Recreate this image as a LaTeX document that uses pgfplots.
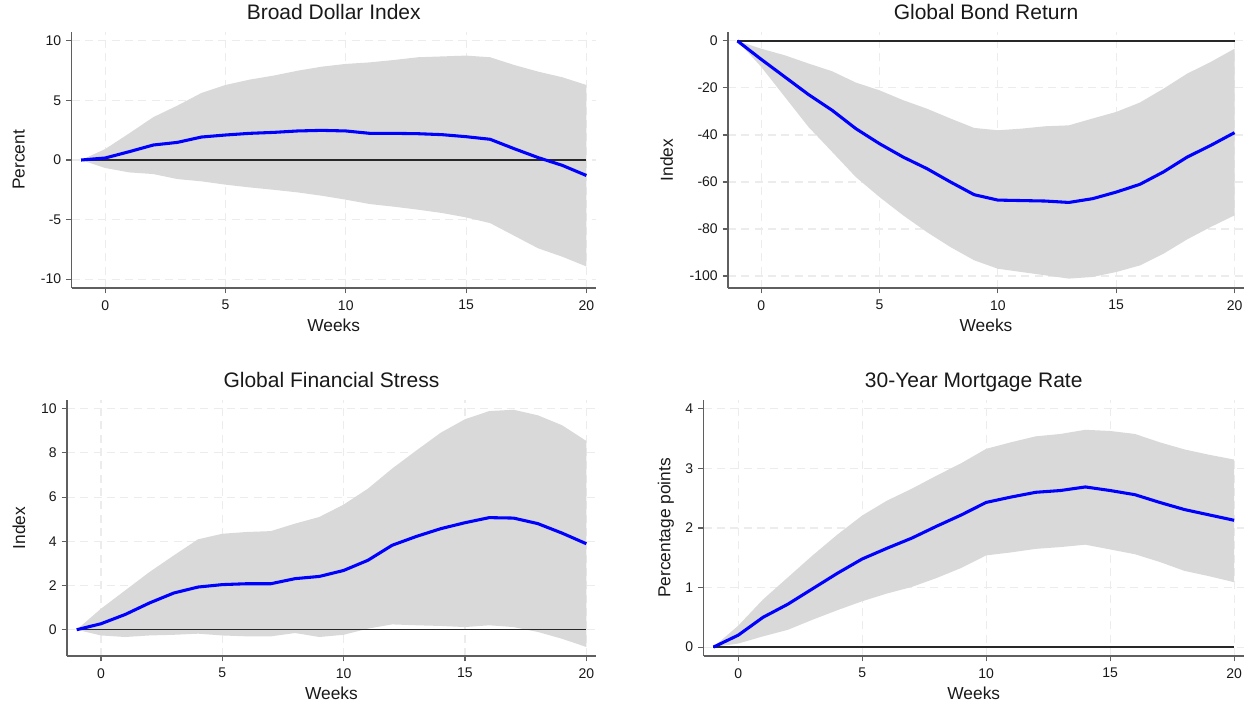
\documentclass[border=0pt]{standalone}
\usepackage{fontspec}
\setmainfont{Liberation Sans}
\usepackage{pgfplots}
\pgfplotsset{compat=1.18}
\usepackage{pgfplotstable}
\usepgfplotslibrary{fillbetween}

\definecolor{band}{RGB}{217,217,217}
\definecolor{gridc}{RGB}{236,236,236}
\definecolor{axc}{RGB}{95,95,95}
\definecolor{zeroc}{RGB}{40,40,40}

\pgfplotstableread{
x est lo hi
-1 0 0 0
0 0.17 -0.67 0.92
1 0.70 -1.04 2.24
2 1.26 -1.18 3.60
3 1.48 -1.60 4.57
4 1.93 -1.79 5.63
5 2.10 -2.07 6.30
6 2.24 -2.30 6.75
7 2.32 -2.50 7.09
8 2.44 -2.72 7.50
9 2.49 -3.00 7.84
10 2.44 -3.33 8.07
11 2.24 -3.70 8.20
12 2.24 -3.92 8.40
13 2.21 -4.17 8.63
14 2.13 -4.45 8.70
15 1.96 -4.82 8.77
16 1.74 -5.30 8.63
17 0.95 -6.36 7.98
18 0.20 -7.42 7.42
19 -0.45 -8.12 6.95
20 -1.30 -8.94 6.30
}\tabA

\pgfplotstableread{
x est lo hi
-1 0 0 0
0 -7.8 -11.0 -3.3
1 -15.3 -23.8 -6.1
2 -22.8 -36.6 -9.6
3 -29.5 -47.2 -12.9
4 -37.3 -57.9 -17.7
5 -43.7 -66.4 -21.0
6 -49.4 -74.2 -25.2
7 -54.3 -81.3 -28.8
8 -60.0 -87.7 -33.0
9 -65.4 -93.3 -37.0
10 -67.7 -96.9 -38.0
11 -67.9 -98.3 -37.3
12 -68.1 -99.7 -36.3
13 -68.7 -101.1 -35.9
14 -67.1 -100.4 -33.0
15 -64.3 -98.3 -30.2
16 -61.0 -95.5 -26.2
17 -55.7 -90.5 -20.3
18 -49.4 -84.4 -13.9
19 -44.4 -79.1 -8.9
20 -39.0 -74.2 -3.3
}\tabB

\pgfplotstableread{
x est lo hi
-1 0 0 0
0 0.27 -0.26 0.95
1 0.69 -0.33 1.78
2 1.21 -0.26 2.61
3 1.66 -0.23 3.36
4 1.93 -0.18 4.09
5 2.04 -0.26 4.34
6 2.08 -0.30 4.42
7 2.08 -0.30 4.46
8 2.31 -0.15 4.80
9 2.41 -0.33 5.10
10 2.68 -0.23 5.66
11 3.14 0.05 6.38
12 3.82 0.24 7.29
13 4.22 0.20 8.11
14 4.57 0.17 8.91
15 4.84 0.12 9.52
16 5.07 0.20 9.89
17 5.05 0.12 9.95
18 4.80 -0.10 9.70
19 4.37 -0.41 9.25
20 3.89 -0.78 8.54
}\tabC

\pgfplotstableread{
x est lo hi
-1 0 0 0
0 0.20 0.06 0.36
1 0.50 0.18 0.80
2 0.72 0.29 1.17
3 0.98 0.46 1.54
4 1.24 0.62 1.89
5 1.48 0.77 2.21
6 1.66 0.90 2.46
7 1.83 1.01 2.66
8 2.03 1.16 2.88
9 2.22 1.33 3.09
10 2.43 1.54 3.33
11 2.52 1.59 3.44
12 2.60 1.65 3.54
13 2.63 1.68 3.58
14 2.69 1.72 3.65
15 2.63 1.64 3.63
16 2.56 1.56 3.58
17 2.43 1.43 3.44
18 2.31 1.28 3.32
19 2.22 1.19 3.23
20 2.13 1.09 3.15
}\tabD

\pgfplotsset{
  irf/.style={
    scale only axis,
    anchor=south west,
    height=192pt,
    xmin=-1.4, xmax=20.4,
    axis x line*=bottom, axis y line*=left,
    axis line style={axc, line width=0.9pt, -},
    tick align=outside, major tick length=4pt,
    tick style={axc, line width=0.8pt},
    xtick={0,5,10,15,20},
    xticklabels={0,5,10,15,20},
    grid=major,
    major grid style={gridc, dash pattern=on 6pt off 4pt, line width=0.8pt},
    ticklabel style={font=\fontsize{10.5pt}{12pt}\selectfont, text=black!90},
    xticklabel style={anchor=north, inner sep=0pt, yshift=-5pt},
    yticklabel style={anchor=east, inner sep=0pt, xshift=-3.5pt},
    xlabel={Weeks},
    xlabel style={font=\fontsize{13pt}{15pt}\selectfont, text=black!90, at={(axis description cs:0.5,-0.17)}, anchor=base},
    ylabel style={font=\fontsize{13pt}{15pt}\selectfont, text=black!90, anchor=center},
    title style={font=\fontsize{15.75pt}{18pt}\selectfont, text=black!90, at={(axis description cs:0.5,1.017)}, anchor=base},
  },
  bandfill/.style={fill=band, draw=none},
  zeroline/.style={zeroc, line width=1.1pt, forget plot},
  irfline/.style={color={rgb,255:red,0;green,0;blue,255}, line width=2.3pt, line join=round},
}

\begin{document}
\begin{tikzpicture}
\path (0,0) rectangle (939.75pt,-531pt);

% Panel 1
\begin{axis}[irf, at={(53.625pt,-214.5pt)}, width=393.375pt,
  ymin=-10.75, ymax=10.75,
  ytick={-10,-5,0,5,10}, yticklabels={-10,-5,0,5,10},
  title={Broad Dollar Index}, ylabel={Percent},
  ylabel style={at={(axis description cs:-0.1005,0.5)}}]
\addplot[draw=none, name path=hi, forget plot] table[x=x,y=hi]{\tabA};
\addplot[draw=none, name path=lo, forget plot] table[x=x,y=lo]{\tabA};
\addplot[bandfill] fill between[of=hi and lo];
\addplot[zeroline] coordinates {(-1,0) (20,0)};
\addplot[irfline] table[x=x,y=est]{\tabA};
\end{axis}

% Panel 2
\begin{axis}[irf, at={(546pt,-214.5pt)}, width=387pt,
  ymin=-105.1, ymax=3.8,
  ytick={-100,-80,-60,-40,-20,0}, yticklabels={-100,-80,-60,-40,-20,0},
  title={Global Bond Return}, ylabel={Index},
  ylabel style={at={(axis description cs:-0.1188,0.5)}}]
\addplot[draw=none, name path=hi, forget plot] table[x=x,y=hi]{\tabB};
\addplot[draw=none, name path=lo, forget plot] table[x=x,y=lo]{\tabB};
\addplot[bandfill] fill between[of=hi and lo];
\addplot[zeroline] coordinates {(-1,0) (20,0)};
\addplot[irfline] table[x=x,y=est]{\tabB};
\end{axis}

% Panel 3
\begin{axis}[irf, at={(50.25pt,-490.5pt)}, width=396.75pt,
  ymin=-1.19, ymax=10.39,
  ytick={0,2,4,6,8,10}, yticklabels={0,2,4,6,8,10},
  title={Global Financial Stress}, ylabel={Index},
  ylabel style={at={(axis description cs:-0.0911,0.5)}}]
\addplot[draw=none, name path=hi, forget plot] table[x=x,y=hi]{\tabC};
\addplot[draw=none, name path=lo, forget plot] table[x=x,y=lo]{\tabC};
\addplot[bandfill] fill between[of=hi and lo];
\addplot[zeroline] coordinates {(-1,0) (20,0)};
\addplot[irfline] table[x=x,y=est]{\tabC};
\end{axis}

% Panel 4
\begin{axis}[irf, at={(527.625pt,-490.5pt)}, width=405.375pt,
  ymin=-0.15, ymax=4.15,
  ytick={0,1,2,3,4}, yticklabels={0,1,2,3,4},
  title={30-Year Mortgage Rate}, ylabel={Percentage points},
  ylabel style={at={(axis description cs:-0.0698,0.5)}}]
\addplot[draw=none, name path=hi, forget plot] table[x=x,y=hi]{\tabD};
\addplot[draw=none, name path=lo, forget plot] table[x=x,y=lo]{\tabD};
\addplot[bandfill] fill between[of=hi and lo];
\addplot[zeroline] coordinates {(-1,0) (20,0)};
\addplot[irfline] table[x=x,y=est]{\tabD};
\end{axis}
\end{tikzpicture}
\end{document}
